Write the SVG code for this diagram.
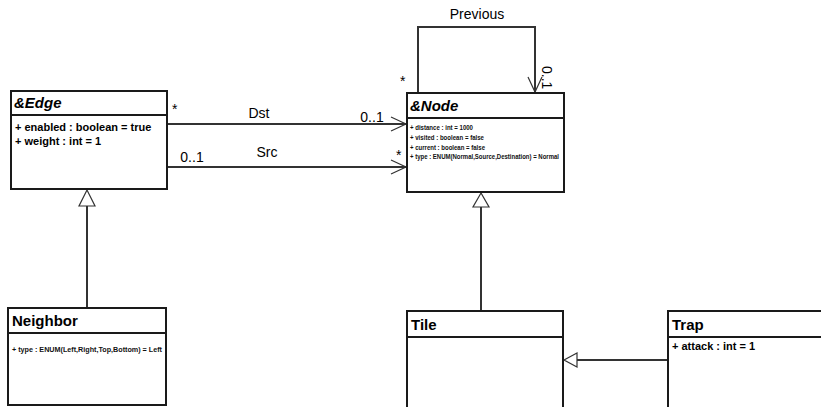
<svg xmlns="http://www.w3.org/2000/svg" width="821" height="407" viewBox="0 0 821 407">
  <defs>
    <style>
      .box { fill: #ffffff; stroke: #1a1a1a; stroke-width: 2; }
      .sep { stroke: #1a1a1a; stroke-width: 2; }
      .conn { fill: none; stroke: #333333; stroke-width: 2; }
      .tri { fill: #ffffff; stroke: #333333; stroke-width: 1.2; }
      .open { fill: none; stroke: #333333; stroke-width: 1.2; }
      .title { font-family: "Liberation Sans", Arial, sans-serif; font-weight: bold; font-size: 15px; fill: #000; }
      .abs { font-style: italic; }
      .attr { font-family: "Liberation Sans", Arial, sans-serif; font-weight: bold; font-size: 11px; fill: #000; }
      .small { font-family: "Liberation Sans", Arial, sans-serif; font-weight: bold; font-size: 8px; fill: #111; }
      .lbl { font-family: "Liberation Sans", Arial, sans-serif; font-size: 14px; fill: #000; }
    </style>
  </defs>
  <rect width="821" height="407" fill="#ffffff"/>

  <!-- associations and generalizations -->
  <g id="connectors">
    <!-- Previous: self association on Node -->
    <polyline class="conn" points="418,93 418,27 535,27 535,92"/>
    <polyline class="open" points="528,77 535,92 542,77"/>
    <text class="lbl" x="477" y="19" text-anchor="middle">Previous</text>
    <text class="lbl" x="400" y="86">*</text>
    <text class="lbl" x="542" y="66" transform="rotate(90 542 66)" font-size="13">0..1</text>

    <!-- Dst -->
    <line class="conn" x1="167" y1="124" x2="406" y2="124"/>
    <polyline class="open" points="391,117 406,124 391,131"/>
    <text class="lbl" x="172" y="114">*</text>
    <text class="lbl" x="259" y="118" text-anchor="middle">Dst</text>
    <text class="lbl" x="372" y="122" text-anchor="middle">0..1</text>

    <!-- Src -->
    <line class="conn" x1="167" y1="167" x2="406" y2="167"/>
    <polyline class="open" points="391,160 406,167 391,174"/>
    <text class="lbl" x="192" y="162" text-anchor="middle">0..1</text>
    <text class="lbl" x="267" y="157" text-anchor="middle">Src</text>
    <text class="lbl" x="396" y="160">*</text>

    <!-- Neighbor extends Edge -->
    <line class="conn" x1="87" y1="206" x2="87" y2="308"/>
    <polygon class="tri" points="87,190 79,206 95,206"/>

    <!-- Tile extends Node -->
    <line class="conn" x1="481" y1="207" x2="481" y2="311"/>
    <polygon class="tri" points="481,193 473,207 489,207"/>

    <!-- Trap extends Tile -->
    <line class="conn" x1="577" y1="360" x2="668" y2="360"/>
    <polygon class="tri" points="564,360 577,353 577,367"/>
  </g>

  <g id="edge">
    <rect class="box" x="11" y="91" width="156" height="98"/>
    <line class="sep" x1="11" y1="115" x2="167" y2="115"/>
    <text class="title abs" x="14" y="108">&amp;Edge</text>
    <text class="attr" x="15" y="131">+ enabled : boolean = true</text>
    <text class="attr" x="15" y="145">+ weight : int = 1</text>
  </g>

  <g id="node">
    <rect class="box" x="407" y="93" width="157" height="99"/>
    <line class="sep" x1="407" y1="118" x2="564" y2="118"/>
    <text class="title abs" x="410" y="111">&amp;Node</text>
    <text class="small" x="410" y="130" textLength="63" lengthAdjust="spacingAndGlyphs">+ distance : int = 1000</text>
    <text class="small" x="410" y="140" textLength="74" lengthAdjust="spacingAndGlyphs">+ visited : boolean = false</text>
    <text class="small" x="410" y="150" textLength="75" lengthAdjust="spacingAndGlyphs">+ current : boolean = false</text>
    <text class="small" x="410" y="159" textLength="149" lengthAdjust="spacingAndGlyphs">+ type : ENUM(Normal,Source,Destination) = Normal</text>
  </g>

  <g id="neighbor">
    <rect class="box" x="8" y="308" width="158" height="97"/>
    <line class="sep" x1="8" y1="333" x2="166" y2="333"/>
    <text class="title" x="12" y="326">Neighbor</text>
    <text class="small" x="12" y="352" font-size="9" textLength="150" lengthAdjust="spacingAndGlyphs">+ type : ENUM(Left,Right,Top,Bottom) = Left</text>
  </g>

  <g id="tile">
    <rect class="box" x="407" y="311" width="156" height="110"/>
    <line class="sep" x1="407" y1="337" x2="563" y2="337"/>
    <text class="title" x="411" y="330" font-size="13">Tile</text>
  </g>

  <g id="trap">
    <rect class="box" x="668" y="311" width="160" height="110"/>
    <line class="sep" x1="668" y1="337" x2="828" y2="337"/>
    <text class="title" x="672" y="330" font-size="13">Trap</text>
    <text class="attr" x="672" y="350">+ attack : int = 1</text>
  </g>
</svg>
